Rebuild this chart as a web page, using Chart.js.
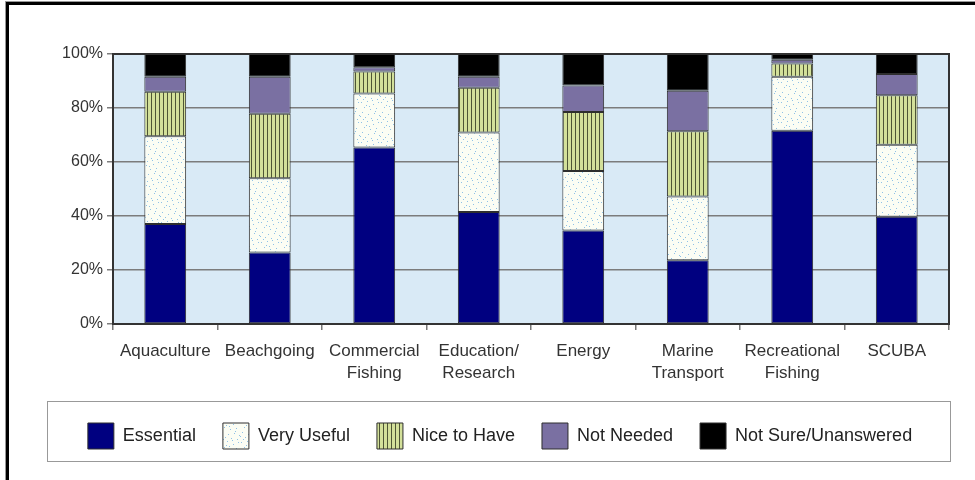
<!DOCTYPE html>
<html>
<head>
<meta charset="utf-8">
<script src="https://cdn.jsdelivr.net/npm/chart.js@4"></script>
<style>
  html, body { margin: 0; padding: 0; background: #fff; overflow: hidden; }
  #frame { position: absolute; left: 6px; top: 2px; width: 1000px; height: 520px; border: 3px solid #000; box-shadow: 0 0 0 1px #999; }
  #legendBox { position: absolute; left: 47px; top: 401px; width: 902px; height: 59px; border: 1.5px solid #999; }
  #wrap { position: absolute; left: 0; top: 0; width: 975px; height: 480px; }
</style>
</head>
<body>
<div id="frame"></div>
<div id="legendBox"></div>
<div id="wrap"><canvas id="myChart"></canvas></div>
<script>
const categories = [
  ['Aquaculture'], ['Beachgoing'], ['Commercial', 'Fishing'], ['Education/', 'Research'],
  ['Energy'], ['Marine', 'Transport'], ['Recreational', 'Fishing'], ['SCUBA']
];
const seriesNames = ['Essential', 'Very Useful', 'Nice to Have', 'Not Needed', 'Not Sure/Unanswered'];
const essential  = [37.0, 26.5, 65.4, 41.5, 34.6, 23.6, 71.6, 39.7];
const veryUseful = [32.5, 27.5, 20.0, 29.4, 22.1, 23.6, 20.0, 26.7];
const niceToHave = [16.5, 23.9,  8.1, 16.6, 21.8, 24.2,  4.9, 18.3];
const notNeeded  = [ 5.6, 13.7,  1.6,  4.1,  9.8, 15.0,  1.4,  7.9];
const notSure    = [ 8.4,  8.4,  4.9,  8.4, 11.7, 13.6,  2.1,  7.4];
const yTicks = [0, 20, 40, 60, 80, 100];

// fill textures
function dotPattern() {
  const c = document.createElement('canvas');
  c.width = 20; c.height = 20;
  const g = c.getContext('2d');
  g.fillStyle = '#fbfdf4';
  g.fillRect(0, 0, 20, 20);
  g.fillStyle = '#8fc1e6';
  const dots = [[1,2],[7,1],[13,4],[18,2],[4,7],[10,9],[16,8],[2,12],[8,14],[14,13],[19,15],[5,17],[11,18],[17,19],[0,16],[12,0],
                [6,5],[15,11],[9,6],[3,19]];
  dots.forEach(d => g.fillRect(d[0], d[1], 1, 1));
  return g.createPattern(c, 'repeat');
}
function stripePattern() {
  const c = document.createElement('canvas');
  c.width = 4; c.height = 4;
  const g = c.getContext('2d');
  g.fillStyle = '#d3e09a';
  g.fillRect(0, 0, 4, 4);
  g.fillStyle = '#4e5535';
  g.fillRect(3, 0, 1, 4);
  return g.createPattern(c, 'repeat');
}

const fills = ['#000080', dotPattern(), stripePattern(), '#7a70a2', '#000000'];
const values = [essential, veryUseful, niceToHave, notNeeded, notSure];

const plotBg = {
  id: 'plotBg',
  beforeDraw(chart) {
    const a = chart.chartArea, ctx = chart.ctx;
    ctx.save();
    ctx.fillStyle = '#d9eaf6';
    ctx.fillRect(a.left, a.top, a.right - a.left, a.bottom - a.top);
    ctx.restore();
  },
  afterDatasetsDraw(chart) {
    const a = chart.chartArea, ctx = chart.ctx;
    ctx.save();
    ctx.strokeStyle = '#333';
    ctx.lineWidth = 2;
    ctx.strokeRect(a.left, a.top, a.right - a.left, a.bottom - a.top);
    ctx.restore();
  }
};

const ctx = document.getElementById('myChart').getContext('2d');
new Chart(ctx, {
  type: 'bar',
  data: {
    labels: categories,
    datasets: seriesNames.map((name, i) => ({
      label: name,
      data: values[i],
      backgroundColor: fills[i],
      borderColor: '#2e2e2e',
      borderWidth: 1,
      borderSkipped: false,
      barPercentage: 0.4,
      categoryPercentage: 1.0
    }))
  },
  options: {
    responsive: true,
    maintainAspectRatio: false,
    animation: false,
    layout: { padding: { top: 54, left: 51, right: 26, bottom: 21 } },
    plugins: {
      tooltip: { enabled: false },
      legend: {
        position: 'bottom',
        labels: {
          boxWidth: 26,
          boxHeight: 26,
          padding: 27,
          color: '#222',
          font: { family: '"Liberation Sans", Arial, sans-serif', size: 18 }
        }
      }
    },
    scales: {
      x: {
        stacked: true,
        grid: { display: true, drawOnChartArea: false, drawTicks: true, tickLength: 6, color: '#777', lineWidth: 1.5 },
        border: { display: true, color: '#333', width: 2 },
        ticks: {
          color: '#333',
          padding: 11,
          maxRotation: 0,
          font: { family: '"Liberation Sans", Arial, sans-serif', size: 17, lineHeight: 1.25 }
        },
        afterFit(scale) { scale.height = 72; }
      },
      y: {
        stacked: true,
        min: 0,
        max: 100,
        afterBuildTicks(scale) { scale.ticks = yTicks.map(v => ({ value: v })); },
        grid: { color: '#7c7c7c', lineWidth: 1.5, tickLength: 6 },
        border: { display: true, color: '#333', width: 2 },
        ticks: {
          color: '#333',
          padding: 4,
          font: { family: '"Liberation Sans", Arial, sans-serif', size: 16 },
          callback: v => v + '%'
        },
        afterFit(scale) { scale.width = 62; }
      }
    }
  },
  plugins: [plotBg]
});
</script>
</body>
</html>
